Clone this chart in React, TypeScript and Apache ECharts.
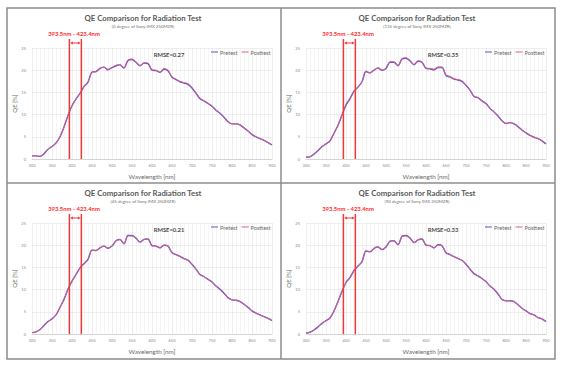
import React, { useEffect, useRef } from 'react';
import * as echarts from 'echarts';

const wavelengths = [300,310,320,330,340,350,360,370,380,390,400,410,420,430,440,450,460,470,480,490,500,510,520,530,540,550,560,570,580,590,600,610,620,630,640,650,660,670,680,690,700,710,720,730,740,750,760,770,780,790,800,810,820,830,840,850,860,870,880,890,900];

const pre0 = [0.7,0.7,0.6,1.2,2.2,2.8,3.6,5.0,7.2,9.8,12.0,13.5,14.8,16.3,17.3,19.6,19.7,20.4,20.7,20.1,20.6,21.0,21.2,20.5,22.2,22.4,21.8,21.0,21.6,21.5,20.0,19.9,19.5,20.2,19.9,18.4,17.9,17.4,17.1,16.8,16.0,14.8,13.6,13.1,12.5,11.9,11.0,10.3,9.4,8.4,7.9,7.9,7.7,7.0,6.3,5.5,5.0,4.6,4.2,3.7,3.2];
const post0 = [0.7,0.7,0.6,1.2,2.2,2.8,3.6,5.0,7.2,9.8,12.0,13.5,14.8,16.3,17.3,19.5,19.7,20.4,20.7,20.2,20.6,21.1,21.3,20.5,22.3,22.5,21.9,21.0,21.7,21.6,20.1,20.0,19.6,20.4,20.0,18.5,18.0,17.5,17.2,17.0,16.1,14.9,13.6,13.1,12.5,11.9,11.0,10.3,9.4,8.4,7.9,7.9,7.7,7.0,6.3,5.5,5.0,4.6,4.2,3.7,3.2];

const pre135 = [0.4,0.5,1.1,1.9,2.8,3.4,4.1,5.8,7.6,9.9,12.2,13.6,15.3,16.2,17.4,19.7,19.4,20.0,20.5,20.0,20.4,21.8,21.8,21.0,22.5,22.7,22.1,21.2,22.0,21.8,20.4,20.3,20.1,20.6,20.6,18.8,18.5,18.0,17.8,17.5,16.6,15.5,14.1,13.8,13.1,12.5,11.4,10.6,9.7,8.6,8.0,8.2,7.9,7.3,6.5,5.9,5.3,4.9,4.6,4.1,3.4];
const post135 = [0.4,0.5,1.1,1.9,2.8,3.4,4.1,5.8,7.6,9.9,12.0,13.4,15.2,16.2,17.4,19.8,19.4,20.0,20.5,20.0,20.4,21.9,21.9,21.0,22.6,22.8,22.2,21.3,22.1,21.9,20.5,20.4,20.2,20.7,20.7,18.9,18.6,18.1,17.9,17.6,16.6,15.5,14.1,13.8,13.1,12.5,11.4,10.6,9.7,8.6,8.0,8.2,7.9,7.3,6.5,5.9,5.3,4.9,4.6,4.1,3.4];

const pre45 = [0.3,0.5,1.0,1.9,2.8,3.4,4.3,6.0,7.8,10.1,11.9,13.4,14.9,15.8,16.8,18.9,18.8,19.4,19.8,19.3,19.8,21.0,21.3,20.3,22.2,22.2,21.6,20.7,21.3,21.4,19.9,19.8,19.4,20.0,19.8,18.3,17.9,17.5,17.0,16.6,15.7,14.6,13.4,12.9,12.3,11.7,10.8,10.1,9.2,8.2,7.7,7.6,7.3,6.7,6.0,5.2,4.7,4.3,3.9,3.5,3.0];
const post45 = [0.3,0.5,1.0,1.9,2.8,3.4,4.3,6.0,7.8,10.1,11.9,13.4,14.9,15.8,16.8,18.8,18.8,19.4,19.8,19.3,19.8,21.0,21.3,20.3,22.1,22.1,21.6,20.7,21.3,21.4,19.9,19.8,19.4,20.0,19.8,18.3,17.9,17.4,16.9,16.5,15.7,14.6,13.4,12.9,12.3,11.7,10.8,10.0,9.1,8.2,7.7,7.6,7.3,6.7,6.0,5.2,4.7,4.3,3.9,3.5,3.0];

const pre90 = [0.2,0.4,0.9,1.6,2.4,3.0,3.6,5.2,7.3,9.6,11.6,12.7,14.3,15.3,16.3,18.7,18.5,19.3,19.6,19.0,19.6,20.9,21.0,20.1,22.0,22.2,21.6,20.6,21.2,21.4,20.0,19.9,19.4,20.1,19.9,18.3,17.9,17.4,17.0,16.6,15.7,14.6,13.6,13.1,12.5,11.8,10.8,10.1,9.0,7.8,7.5,7.5,7.3,6.6,5.8,5.2,4.6,4.3,3.7,3.4,2.8];
const post90 = [0.2,0.4,0.9,1.6,2.4,3.0,3.6,5.2,7.3,9.6,11.6,12.7,14.3,15.3,16.3,18.7,18.6,19.3,19.6,19.0,19.6,20.9,21.0,20.1,21.9,22.1,21.6,20.6,21.2,21.4,20.0,19.9,19.4,20.0,19.9,18.3,17.9,17.4,17.0,16.6,15.7,14.6,13.6,13.1,12.5,11.8,10.8,10.1,9.0,7.8,7.5,7.5,7.3,6.6,5.8,5.2,4.6,4.3,3.7,3.4,2.8];

const preSeries = [pre0, pre135, pre45, pre90];
const postSeries = [post0, post135, post45, post90];
const subtitles = [
  '(0 degree of Sony IMX 250MZR)',
  '(135 degree of Sony IMX 250MZR)',
  '(45 degree of Sony IMX 250MZR)',
  '(90 degree of Sony IMX 250MZR)',
];
const rmseLabels = ['RMSE=0.27', 'RMSE=0.35', 'RMSE=0.21', 'RMSE=0.33'];
const chartTitle = 'QE Comparison for Radiation Test';
const bandStart = 393.5;
const bandEnd = 423.4;
const bandLabel = '393.5nm - 423.4nm';
const xMin = 300, xMax = 900, xStep = 50;
const yMin = 0, yMax = 25, yStep = 5;

const origins = [[7, 8], [281, 8], [7, 183], [281, 183]];
const FONT = 'Lato, "Noto Sans", sans-serif';
const PRE_COLOR = '#5c54d0';
const POST_COLOR = '#e4607c';

export default function App() {
  const ref = useRef<HTMLDivElement>(null);
  useEffect(() => {
    if (!ref.current) return;
    const chart = echarts.init(ref.current, undefined, { renderer: 'svg' });
    const grids: any[] = [], xAxes: any[] = [], yAxes: any[] = [], series: any[] = [], legends: any[] = [];
    origins.forEach(([ox, oy], i) => {
      grids.push({ left: ox + 25, top: oy + 40, width: 240, height: 111, containLabel: false });
      xAxes.push({
        type: 'value', gridIndex: i, min: xMin, max: xMax, interval: xStep,
        name: 'Wavelength [nm]', nameLocation: 'middle', nameGap: 14,
        nameTextStyle: { fontSize: 6.3, color: '#6a6a6a', fontFamily: FONT },
        axisLine: { show: true, lineStyle: { color: '#d4d4d4', width: 1 } },
        axisTick: { show: false },
        axisLabel: { fontSize: 4, color: '#8a8a8a', margin: 4, fontFamily: FONT },
        splitLine: { show: true, lineStyle: { color: '#e2e2e2', width: 0.6 } },
        minorTick: { show: false, splitNumber: 5 },
        minorSplitLine: { show: true, lineStyle: { color: '#ebebeb', width: 0.5 } },
      });
      yAxes.push({
        type: 'value', gridIndex: i, min: yMin, max: yMax, interval: yStep,
        name: 'QE [%]', nameLocation: 'middle', nameGap: 15, nameRotate: 90,
        nameTextStyle: { fontSize: 6, color: '#6a6a6a', fontFamily: FONT },
        axisLine: { show: false }, axisTick: { show: false },
        axisLabel: { fontSize: 4, color: '#8a8a8a', margin: 6, fontFamily: FONT },
        splitLine: { show: true, lineStyle: { color: '#e2e2e2', width: 0.6 } },
      });
      series.push({
        type: 'line', name: 'Pretest', xAxisIndex: i, yAxisIndex: i, showSymbol: false, smooth: 0.3,
        lineStyle: { color: PRE_COLOR, width: 1.4 }, itemStyle: { color: PRE_COLOR },
        data: wavelengths.map((w, k) => [w, preSeries[i][k]]),
      });
      series.push({
        type: 'line', name: 'Posttest', xAxisIndex: i, yAxisIndex: i, showSymbol: false, smooth: 0.3,
        lineStyle: { color: POST_COLOR, width: 1.0, opacity: 0.9 }, itemStyle: { color: POST_COLOR },
        data: wavelengths.map((w, k) => [w, postSeries[i][k]]),
      });
      legends.push({
        data: ['Pretest', 'Posttest'], left: ox + 204, top: oy + 41, orient: 'horizontal',
        icon: 'rect', itemWidth: 7, itemHeight: 1, itemGap: 4, padding: 0,
        textStyle: { fontSize: 5.6, color: '#6a6a6a', fontFamily: FONT, padding: [0, 0, 0, -3] },
      });
    });

    chart.setOption({
      animation: false,
      backgroundColor: '#ffffff',
      grid: grids, xAxis: xAxes, yAxis: yAxes, series, legend: legends,
    });

    const graphics: any[] = [];
    graphics.push({ type: 'rect', shape: { x: 7, y: 8, width: 548, height: 351 }, style: { fill: 'none', stroke: '#8c8c8c', lineWidth: 1.5 }, z: 100 });
    graphics.push({ type: 'line', shape: { x1: 281, y1: 8, x2: 281, y2: 359 }, style: { stroke: '#8c8c8c', lineWidth: 1.5 }, z: 100 });
    graphics.push({ type: 'line', shape: { x1: 7, y1: 183, x2: 555, y2: 183 }, style: { stroke: '#8c8c8c', lineWidth: 1.5 }, z: 100 });

    origins.forEach(([ox, oy], i) => {
      const txt = (x: number, y: number, text: string, size: number, color: string, weight: string) => ({
        type: 'text', x, y, z: 100,
        style: { text, fontSize: size, fontWeight: weight, fontFamily: FONT, fill: color, align: 'center', verticalAlign: 'middle', textAlign: 'center', textVerticalAlign: 'middle' },
      });
      graphics.push(txt(ox + 136, oy + 10, chartTitle, 7.8, '#5a5a5a', 'bold'));
      graphics.push(txt(ox + 136, oy + 18, subtitles[i], 4.4, '#707070', 'normal'));
      graphics.push(txt(ox + 162, oy + 46, rmseLabels[i], 5.8, '#4a4a4a', 'bold'));
      graphics.push(txt(ox + 67, oy + 25, bandLabel, 5.9, '#ff2a2a', 'bold'));
      const p1 = chart.convertToPixel({ gridIndex: i }, [bandStart, yMin]) as number[];
      const p2 = chart.convertToPixel({ gridIndex: i }, [bandEnd, yMin]) as number[];
      const topY = oy + 31;
      const ay = oy + 35;
      [p1, p2].forEach((p) => {
        graphics.push({ type: 'line', z: 90, shape: { x1: p[0], y1: topY, x2: p[0], y2: p[1] }, style: { stroke: '#f03a3a', lineWidth: 1.5 } });
      });
      graphics.push({ type: 'line', z: 90, shape: { x1: p1[0] + 2, y1: ay, x2: p2[0] - 2, y2: ay }, style: { stroke: '#f03a3a', lineWidth: 1 } });
      graphics.push({ type: 'polygon', z: 90, shape: { points: [[p1[0] + 0.8, ay], [p1[0] + 3.5, ay - 1.6], [p1[0] + 3.5, ay + 1.6]] }, style: { fill: '#f03a3a' } });
      graphics.push({ type: 'polygon', z: 90, shape: { points: [[p2[0] - 0.8, ay], [p2[0] - 3.5, ay - 1.6], [p2[0] - 3.5, ay + 1.6]] }, style: { fill: '#f03a3a' } });
    });

    chart.setOption({ graphic: graphics });
    return () => chart.dispose();
  }, []);
  return <div ref={ref} style={{ position: 'fixed', left: 0, top: 0, width: 564, height: 367 }} />;
}
